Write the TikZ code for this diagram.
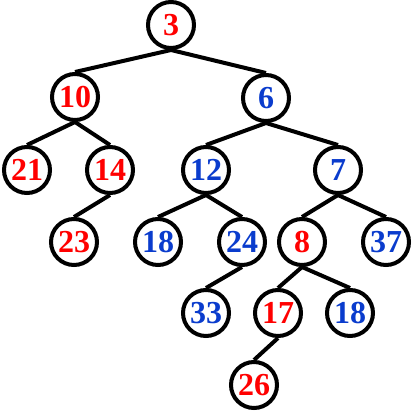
\documentclass[tikz,border=0pt]{standalone}
\usepackage{fontspec}
\setmainfont{Liberation Serif}
\usepackage{tikz}
\definecolor{treeRed}{RGB}{255,0,0}
\definecolor{treeBlue}{RGB}{10,60,205}
\tikzset{
		edgeStyle/.style = {line width = 4pt},
		vertex/.style =    {circle,draw,line width=4pt,minimum size=46pt,inner sep=0pt,
		                    font=\fontsize{32}{32}\selectfont\bfseries},
		redNode/.style =   {vertex,text=treeRed},
		blueNode/.style =  {vertex,text=treeBlue}
}
\begin{document}
\begin{tikzpicture}[x=1pt,y=-1pt]
  \useasboundingbox (0,0) rectangle (412,412);

  % Draw red nodes
  \foreach \nm/\x/\y/\lbl in {n3/171/25/3, n10/75/97/10, n21/27/170/21, n14/110/170/14,
                              n23/74/242/23, n8/302/242/8, n17/278/313/17, n26/254/385/26}
     \node [redNode] (\nm) at (\x,\y) {\lbl};

  % Draw blue nodes
  \foreach \nm/\x/\y/\lbl in {n6/266/98/6, n12/206/170/12, n7/338/170/7, n18a/158/242/18,
                              n24/242/242/24, n37/386/242/37, n33/206/313/33, n18b/350/313/18}
     \node [blueNode] (\nm) at (\x,\y) {\lbl};

  % Draw edges from parent to child
  \foreach \p/\c in {n3/n10, n3/n6, n10/n21, n10/n14, n14/n23, n6/n12, n6/n7,
                     n12/n18a, n12/n24, n24/n33, n7/n8, n7/n37, n8/n17, n8/n18b, n17/n26}
     \draw [edgeStyle] (\p.south) -- (\c.north);

\end{tikzpicture}
\end{document}
